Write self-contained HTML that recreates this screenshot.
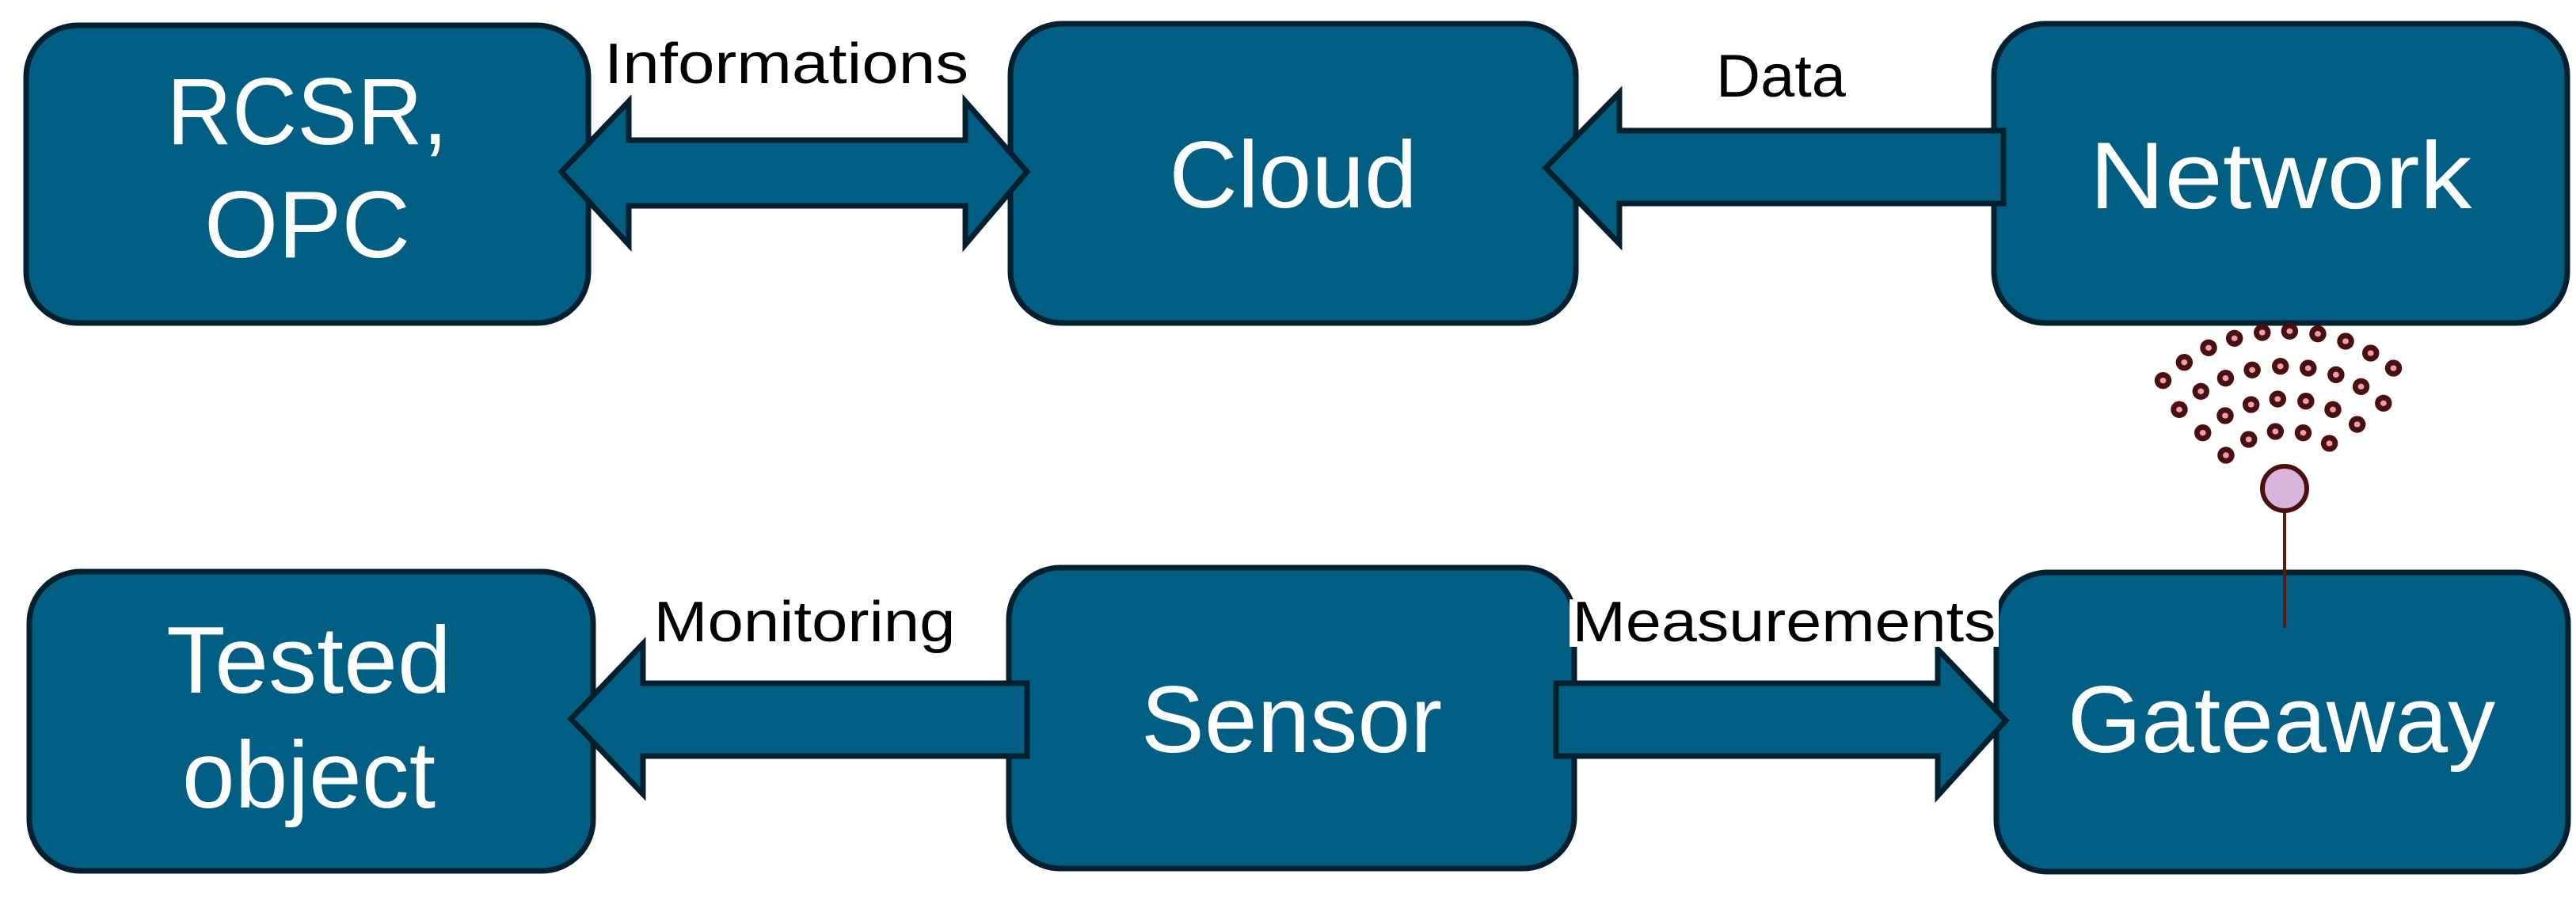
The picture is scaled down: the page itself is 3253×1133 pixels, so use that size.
<!DOCTYPE html>
<html><head><meta charset="utf-8"><style>
html,body{margin:0;padding:0;background:#fff;}
svg{display:block;}
text{font-family:"Liberation Sans",sans-serif;}
</style></head><body>
<svg width="3253" height="1133" viewBox="0 0 3253 1133" xmlns="http://www.w3.org/2000/svg">
<g fill="#005e82" stroke="#03202e" stroke-width="7">
<rect x="33" y="32" width="710" height="376" rx="65"/>
<rect x="1276" y="30" width="714" height="378" rx="65"/>
<rect x="2518" y="30" width="724" height="378" rx="65"/>
<rect x="37" y="722" width="712" height="378" rx="65"/>
<rect x="1274" y="717" width="714" height="380" rx="65"/>
<rect x="2521" y="723" width="722" height="378" rx="65"/>
<polygon points="709,217 794,128 794,177 1219,177 1219,128 1297,217 1219,309 1219,260 794,260 794,309"/>
<polygon points="1952,212 2045,117 2045,165 2530,165 2530,257 2045,257 2045,308"/>
<polygon points="721,908 812,813 812,863 1297,863 1297,955 812,955 812,1003"/>
<polygon points="1965,863 2447,863 2447,820 2533,910 2447,1005 2447,955 1965,955"/>
</g>
<text x="993" y="105" font-size="72" text-anchor="middle" textLength="460" lengthAdjust="spacingAndGlyphs">Informations</text>
<text x="2249" y="122" font-size="76" text-anchor="middle" textLength="164" lengthAdjust="spacingAndGlyphs">Data</text>
<text x="1016" y="810" font-size="72" text-anchor="middle" textLength="381" lengthAdjust="spacingAndGlyphs">Monitoring</text>
<rect x="1982" y="757" width="542" height="60" fill="#fff"/>
<text x="2253" y="810" font-size="72" text-anchor="middle" textLength="535" lengthAdjust="spacingAndGlyphs">Measurements</text>
<g fill="#fff" font-size="120" text-anchor="middle">
<text x="388" y="182" textLength="355" lengthAdjust="spacingAndGlyphs">RCSR,</text>
<text x="388" y="325">OPC</text>
<text x="1633" y="262">Cloud</text>
<text x="2880" y="263" textLength="483" lengthAdjust="spacingAndGlyphs">Network</text>
<text x="390" y="875" textLength="360" lengthAdjust="spacingAndGlyphs">Tested</text>
<text x="390" y="1020">object</text>
<text x="1631" y="950">Sensor</text>
<text x="2881" y="950">Gateaway</text>
</g>
<line x1="2885" y1="645" x2="2885" y2="793" stroke="#5a1a14" stroke-width="4"/>
<ellipse cx="2885" cy="617" rx="28" ry="28" fill="#d9b3d9" stroke="#4a1010" stroke-width="6"/>
<defs>
<g id="d"><ellipse rx="22" ry="32" fill="#4a1010"/><ellipse rx="8" ry="11" fill="#e8a0b0"/></g>
</defs>
<g transform="translate(2500,350) scale(0.4874,0.3333)">
<use href="#d" x="475" y="392"/><use href="#d" x="530" y="323"/><use href="#d" x="593" y="268"/><use href="#d" x="660" y="232"/><use href="#d" x="732" y="210"/><use href="#d" x="803" y="205"/><use href="#d" x="876" y="215"/><use href="#d" x="948" y="243"/><use href="#d" x="1013" y="288"/><use href="#d" x="1072" y="345"/>
<use href="#d" x="517" y="502"/><use href="#d" x="573" y="433"/><use href="#d" x="637" y="383"/><use href="#d" x="706" y="352"/><use href="#d" x="779" y="338"/><use href="#d" x="851" y="345"/><use href="#d" x="923" y="370"/><use href="#d" x="988" y="415"/><use href="#d" x="1046" y="478"/>
<use href="#d" x="578" y="590"/><use href="#d" x="636" y="525"/><use href="#d" x="703" y="483"/><use href="#d" x="772" y="462"/><use href="#d" x="845" y="470"/><use href="#d" x="915" y="502"/><use href="#d" x="978" y="558"/>
<use href="#d" x="638" y="675"/><use href="#d" x="697" y="615"/><use href="#d" x="766" y="585"/><use href="#d" x="838" y="590"/><use href="#d" x="906" y="630"/>
</g>
</svg>
</body></html>
